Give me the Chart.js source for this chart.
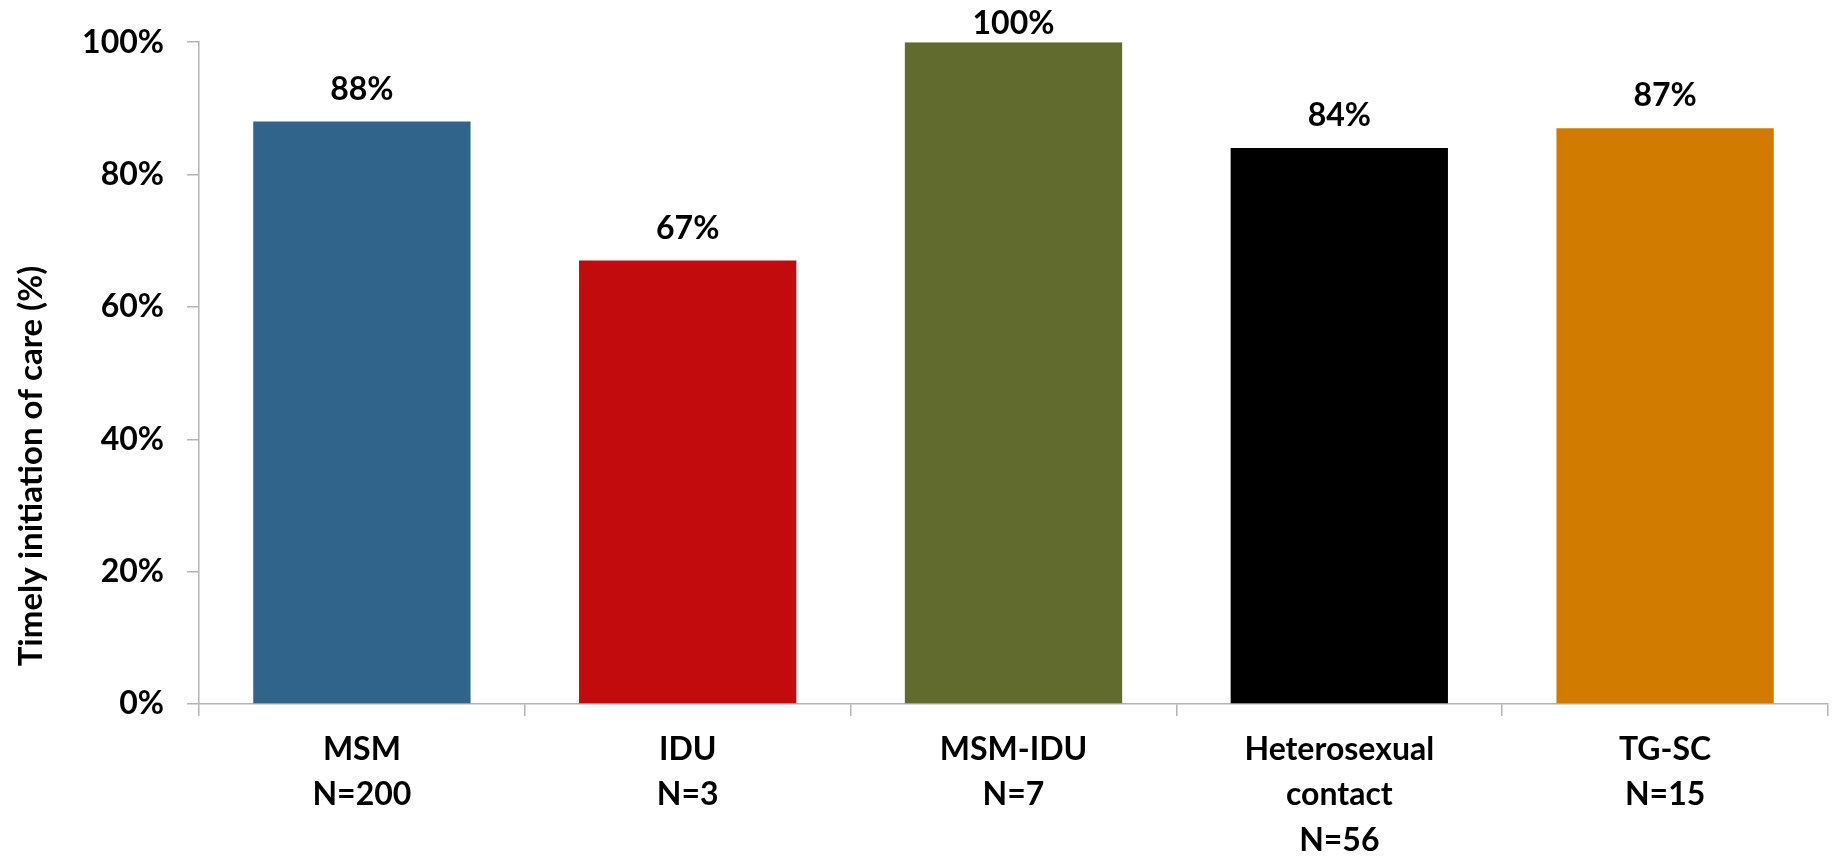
<!DOCTYPE html>
<html>
<head>
<meta charset="utf-8">
<title>Timely initiation of care</title>
<script src="https://cdn.jsdelivr.net/npm/chart.js@4/dist/chart.umd.min.js"></script>
<style>
    html, body { margin: 0; padding: 0; background: #fff; }
    #wrap { width: 1832px; height: 858px; position: relative; }
</style>
</head>
<body>
<div id="wrap"><canvas id="chart"></canvas></div>
<script>
var categories = [
    ['MSM', 'N=200'],
    ['IDU', 'N=3'],
    ['MSM-IDU', 'N=7'],
    ['Heterosexual', 'contact', 'N=56'],
    ['TG-SC', 'N=15']
];
var percentages = [88, 67, 100, 84, 87];
var barColors = ['#30648A', '#C20B0C', '#616B2E', '#000000', '#D17B00'];
var yTicks = [0, 20, 40, 60, 80, 100];
var yTitle = 'Timely initiation of care (%)';

var fontFamily = 'Lato, "Open Sans", sans-serif';
var axisColor = '#B4B4B4';

// value labels above each bar (kept inside the canvas for the 100% bar)
var barLabels = {
    id: 'barLabels',
    afterDatasetsDraw: function (chart) {
        var ctx = chart.ctx;
        var meta = chart.getDatasetMeta(0);
        ctx.save();
        ctx.font = 'bold 32px ' + fontFamily;
        ctx.fillStyle = '#000';
        ctx.textAlign = 'center';
        ctx.textBaseline = 'alphabetic';
        meta.data.forEach(function (bar, i) {
            var y = Math.max(bar.y - 22, 34);
            ctx.fillText(percentages[i] + '%', bar.x, y);
        });
        ctx.restore();
    }
};

// rotated y title, sits a bit lower than the plot centre like the original
var yTitlePlugin = {
    id: 'yTitlePlugin',
    afterDraw: function (chart) {
        var ctx = chart.ctx;
        ctx.save();
        ctx.translate(31, 466);
        ctx.rotate(-Math.PI / 2);
        ctx.font = 'bold 33px ' + fontFamily;
        ctx.fillStyle = '#000';
        ctx.textAlign = 'center';
        ctx.textBaseline = 'middle';
        ctx.fillText(yTitle, 0, 0);
        ctx.restore();
    }
};

var ctx = document.getElementById('chart').getContext('2d');
new Chart(ctx, {
    type: 'bar',
    data: {
        labels: categories,
        datasets: [{
            data: percentages,
            backgroundColor: barColors,
            borderWidth: 0,
            categoryPercentage: 1.0,
            barPercentage: 0.667
        }]
    },
    options: {
        responsive: true,
        maintainAspectRatio: false,
        animation: false,
        layout: { padding: { top: 41, right: 4, bottom: 0, left: 0 } },
        plugins: {
            legend: { display: false },
            tooltip: { enabled: false }
        },
        scales: {
            x: {
                offset: true,
                grid: {
                    offset: true,
                    drawOnChartArea: false,
                    drawTicks: true,
                    tickLength: 12,
                    color: axisColor,
                    lineWidth: 1.5
                },
                border: { color: axisColor, width: 1.5 },
                ticks: {
                    color: '#000',
                    font: { family: fontFamily, size: 32, weight: 'bold', lineHeight: 1.42 },
                    padding: 11,
                    maxRotation: 0,
                    autoSkip: false
                },
                afterFit: function (s) { s.height = 154; }
            },
            y: {
                min: 0,
                max: 100,
                afterBuildTicks: function (s) {
                    s.ticks = yTicks.map(function (v) { return { value: v }; });
                },
                grid: {
                    drawOnChartArea: false,
                    drawTicks: true,
                    tickLength: 12,
                    color: axisColor,
                    lineWidth: 1.5
                },
                border: { color: axisColor, width: 1.5 },
                ticks: {
                    color: '#000',
                    font: { family: fontFamily, size: 32, weight: 'bold' },
                    padding: 23,
                    callback: function (v) { return v + '%'; }
                },
                afterFit: function (s) { s.width = 199; }
            }
        }
    },
    plugins: [barLabels, yTitlePlugin]
});
</script>
</body>
</html>
